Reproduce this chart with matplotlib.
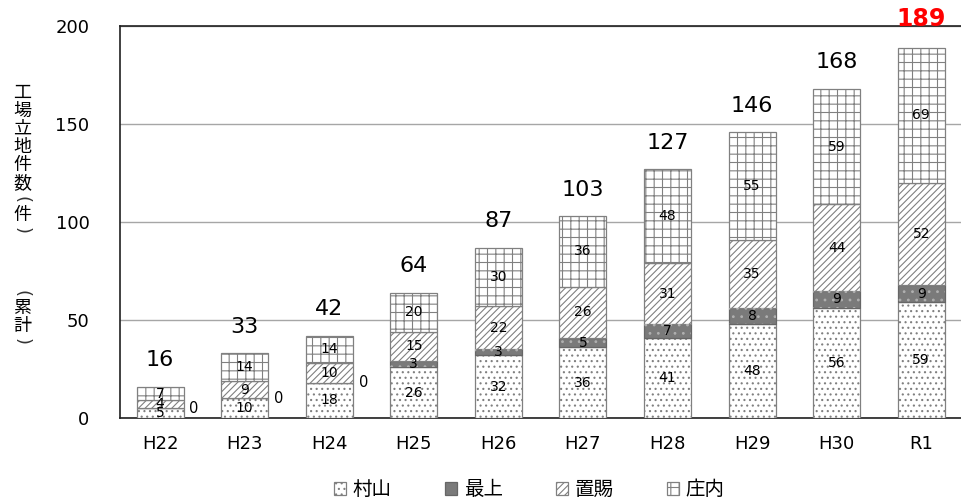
import numpy as np
import matplotlib.pyplot as plt

plt.rcParams['font.family'] = ['DejaVu Sans', 'Noto Sans CJK JP']
plt.rcParams['hatch.linewidth'] = 0.8

years = ['H22', 'H23', 'H24', 'H25', 'H26', 'H27', 'H28', 'H29', 'H30', 'R1']
murayama = [5, 10, 18, 26, 32, 36, 41, 48, 56, 59]
mogami = [0, 0, 0, 3, 3, 5, 7, 8, 9, 9]
okitama = [4, 9, 10, 15, 22, 26, 31, 35, 44, 52]
shonai = [7, 14, 14, 20, 30, 36, 48, 55, 59, 69]
series_names = ['村山', '最上', '置賜', '庄内']

fig = plt.figure(figsize=(9.61, 5.03), dpi=100)
ax = fig.add_axes([0.1249, 0.169, 0.8751, 0.779])

x = np.arange(len(years))
w = 0.556
edge = '#808080'

styles = [
    dict(facecolor='white', hatch='...', edgecolor=edge),
    dict(facecolor='#7a7a7a', hatch='', edgecolor='#666666'),
    dict(facecolor='white', hatch='/////', edgecolor=edge),
    dict(facecolor='white', hatch='++', edgecolor=edge),
]
series = [murayama, mogami, okitama, shonai]

bottom = np.zeros(len(years))
handles = []
for k, (vals, st, name) in enumerate(zip(series, styles, series_names)):
    vals = np.array(vals)
    b = ax.bar(x, vals, w, bottom=bottom, linewidth=0.9, label=name, zorder=3, **st)
    if k == 1:
        # light dots on the grey segment
        ax.bar(x, vals, w, bottom=bottom, facecolor='none', edgecolor='#b0b0b0',
               hatch='..', linewidth=0, zorder=4)
    handles.append(b)
    for i, v in enumerate(vals):
        if v > 0:
            ax.text(x[i], bottom[i] + v / 2, str(v), ha='center', va='center',
                    fontsize=10, color='black', zorder=5)
        else:
            ax.text(x[i] + w / 2 + 0.07, bottom[i], '0', ha='left', va='center',
                    fontsize=10.5, color='black', zorder=5)
    bottom = bottom + vals

totals = bottom.astype(int)
for i, t in enumerate(totals):
    if i == len(totals) - 1:
        ax.annotate(str(t), (x[i], t), xytext=(0, 21), textcoords='offset points',
                    ha='center', va='center', fontsize=17, color='red',
                    fontweight='bold', annotation_clip=False)
    else:
        ax.annotate(str(t), (x[i], t), xytext=(0, 19), textcoords='offset points',
                    ha='center', va='center', fontsize=16, color='black')

ax.set_xlim(-0.473, 9.47)
ax.set_ylim(0, 200)
ax.set_yticks([0, 50, 100, 150, 200])
ax.set_xticks(x)
ax.set_xticklabels(years)
ax.tick_params(axis='both', length=0, labelsize=13)
ax.tick_params(axis='y', pad=22)
ax.tick_params(axis='x', pad=12)
ax.yaxis.grid(True, color='#a6a6a6', linewidth=1.0, zorder=0)
ax.set_axisbelow(True)
ax.spines['right'].set_visible(False)
for s in ['left', 'top', 'bottom']:
    ax.spines[s].set_color('#202020')
    ax.spines[s].set_linewidth(1.2)

# vertical y-axis title, one character at a time (brackets turned for vertical writing)
ylabel_chars = [('工', 93), ('場', 111), ('立', 129), ('地', 147), ('件', 165),
                ('数', 183), ('(', 200), ('件', 215), (')', 230),
                ('(', 293), ('累', 308), ('計', 326), (')', 341)]
for ch, py in ylabel_chars:
    if ch in '()':
        fig.text(22 / 961, 1 - py / 503, ch, ha='center', va='center', fontsize=13,
                 rotation=-90, family='DejaVu Sans', color='#333333')
    else:
        fig.text(22 / 961, 1 - py / 503, ch, ha='center', va='center', fontsize=13,
                 family=['Noto Sans CJK JP', 'DejaVu Sans'])

leg = fig.legend(handles=handles, labels=series_names, loc='center',
                 bbox_to_anchor=(0.551, 0.026), ncol=4, frameon=False,
                 handlelength=0.6, handleheight=0.6, handletextpad=0.35,
                 columnspacing=2.75, prop={'family': ['Noto Sans CJK JP'], 'size': 14})

fig.savefig('out.png', dpi=100)
